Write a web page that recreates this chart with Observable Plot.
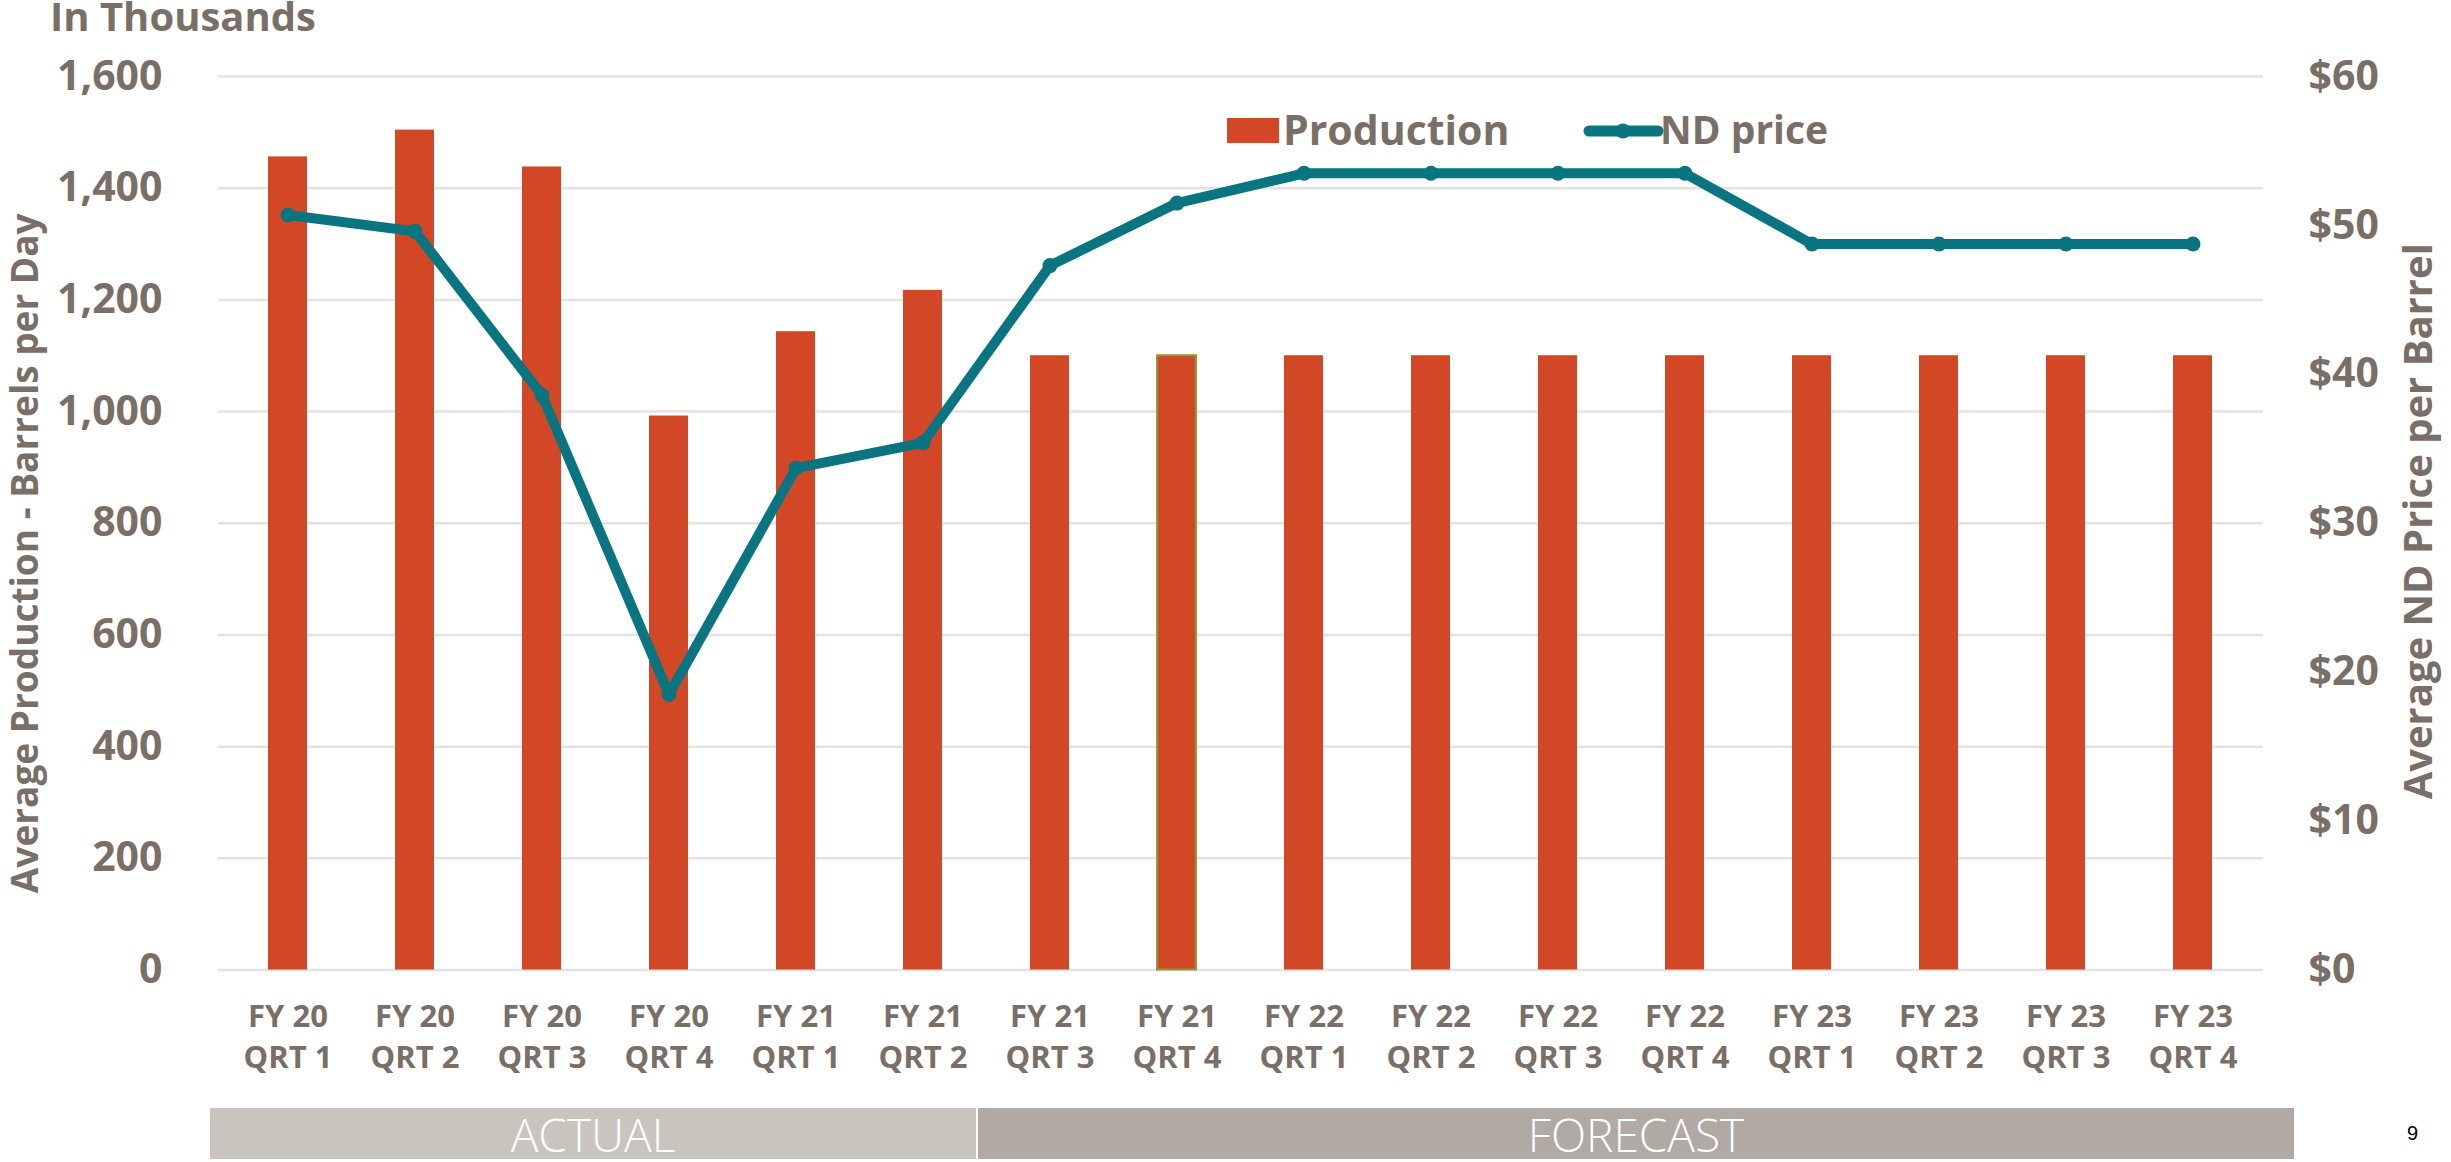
<!DOCTYPE html>
<html>
<head>
<meta charset="utf-8">
<script src="https://cdn.jsdelivr.net/npm/d3@7"></script>
<script src="https://cdn.jsdelivr.net/npm/@observablehq/plot@0.6"></script>
<style>
  html, body { margin: 0; padding: 0; background: #ffffff; }
  #wrap { position: relative; width: 2451px; height: 1162px; overflow: hidden; font-family: "Open Sans", sans-serif; color: #7a6f67; }
  #chart { position: absolute; left: 0; top: 0; }
  .title { position: absolute; left: 50px; top: 1px; font-size: 40px; font-weight: 700; line-height: 30px; white-space: nowrap; }
  .legend-swatch { position: absolute; left: 1227px; top: 118px; width: 52px; height: 25px; background: #d24726; }
  .legend-text { position: absolute; top: 101px; font-size: 41px; font-weight: 700; line-height: 56px; white-space: nowrap; }
  .legend-line { position: absolute; left: 1582px; top: 121px; }
  .phase { position: absolute; top: 1108px; height: 51px; display: flex; align-items: center; justify-content: center; color: #ffffff; font-size: 46px; font-weight: 300; line-height: 46px; }
  .page { position: absolute; left: 2407px; top: 1121px; font-family: "Liberation Sans", Arial, sans-serif; font-size: 20px; line-height: 24px; color: #000; }
</style>
</head>
<body>
<div id="wrap">
  <div id="chart"></div>
</div>
<script>
// ---- Data ----
const periods = [
  "FY 20 QRT 1", "FY 20 QRT 2", "FY 20 QRT 3", "FY 20 QRT 4",
  "FY 21 QRT 1", "FY 21 QRT 2", "FY 21 QRT 3", "FY 21 QRT 4",
  "FY 22 QRT 1", "FY 22 QRT 2", "FY 22 QRT 3", "FY 22 QRT 4",
  "FY 23 QRT 1", "FY 23 QRT 2", "FY 23 QRT 3", "FY 23 QRT 4"
];
const production = [1456, 1504, 1438, 992, 1143, 1217, 1100, 1100, 1100, 1100, 1100, 1100, 1100, 1100, 1100, 1100];
const ndPrice = [50.7, 49.6, 38.6, 18.5, 33.7, 35.4, 47.3, 51.5, 53.5, 53.5, 53.5, 53.5, 48.75, 48.75, 48.75, 48.75];
const productionTicks = [0, 200, 400, 600, 800, 1000, 1200, 1400, 1600];
const priceTicks = [0, 10, 20, 30, 40, 50, 60];
const phaseLabels = ["ACTUAL", "FORECAST"];
const seriesNames = ["Production", "ND price"];
const unitNote = "In Thousands";
const leftTitle = "Average Production - Barrels per Day";
const rightTitle = "Average ND Price per Barrel";
const pageNumber = "9";

// ---- Styling ----
const textColor = "#7a6f67";
const barColor = "#d24726";
const lineColor = "#0a7480";
const k = productionTicks[productionTicks.length - 1] / priceTicks[priceTicks.length - 1];

const data = periods.map((period, i) => ({period, production: production[i], price: ndPrice[i]}));

const chart = Plot.plot({
  width: 2451,
  height: 1100,
  marginTop: 76,
  marginBottom: 130.5,
  marginLeft: 218,
  marginRight: 188,
  style: {fontFamily: "Open Sans, sans-serif", fontWeight: 700, color: textColor, background: "transparent", overflow: "visible"},
  x: {domain: periods, paddingInner: 0.69, paddingOuter: 0.345, axis: null},
  y: {domain: [productionTicks[0], productionTicks[productionTicks.length - 1]], axis: null},
  marks: [
    Plot.gridY(productionTicks, {stroke: "#e3e3e3", strokeOpacity: 1, strokeWidth: 2.5}),
    Plot.barY(data, {
      x: "period", y: "production", fill: barColor,
      stroke: d => d.period === "FY 21 QRT 4" ? "#8f9b35" : "none", strokeWidth: 2
    }),
    Plot.line(data, {x: "period", y: d => d.price * k, stroke: lineColor, strokeWidth: 10, strokeLinejoin: "round", strokeLinecap: "round"}),
    Plot.dot(data, {x: "period", y: d => d.price * k, r: 7.5, fill: lineColor, stroke: "none"}),
    Plot.axisX({tickSize: 0, tickPadding: 27, fontSize: 31, fontWeight: 700, lineHeight: 1.34, tickFormat: d => d.replace(" QRT", "\nQRT"), label: null}),
    Plot.axisY(productionTicks, {anchor: "left", tickSize: 0, tickPadding: 56, fontSize: 41, fontWeight: 700, tickFormat: d3.format(","), label: null}),
    Plot.axisY(priceTicks.map(p => p * k), {anchor: "right", tickSize: 0, tickPadding: 45, fontSize: 41, fontWeight: 700, tickFormat: v => "$" + Math.round(v / k), label: null}),
    Plot.text([leftTitle], {frameAnchor: "left", text: d => d, textAnchor: "middle", lineAnchor: "middle", rotate: -90, dx: -192, dy: 30, fontSize: 37, fontWeight: 700, fill: textColor}),
    Plot.text([rightTitle], {frameAnchor: "right", text: d => d, textAnchor: "middle", lineAnchor: "middle", rotate: -90, dx: 156, dy: -2, fontSize: 40, fontWeight: 700, fill: textColor})
  ]
});
document.getElementById("chart").appendChild(chart);

const wrap = document.getElementById("wrap");
function addDiv(cls, text, style) {
  const el = document.createElement("div");
  el.className = cls;
  if (text != null) el.textContent = text;
  if (style) Object.assign(el.style, style);
  wrap.appendChild(el);
  return el;
}
addDiv("title", unitNote);
// legend
addDiv("legend-swatch");
addDiv("legend-text", seriesNames[0], {left: "1283px"});
const ls = document.createElementNS("http://www.w3.org/2000/svg", "svg");
ls.setAttribute("class", "legend-line");
ls.setAttribute("width", "84");
ls.setAttribute("height", "20");
ls.innerHTML = `<line x1="7" y1="10" x2="76" y2="10" stroke="${lineColor}" stroke-width="11" stroke-linecap="round"/><circle cx="41" cy="10" r="7.5" fill="${lineColor}"/>`;
wrap.appendChild(ls);
addDiv("legend-text", seriesNames[1], {left: "1660px", fontSize: "39px"});
// phases
addDiv("phase", phaseLabels[0], {left: "210px", width: "766px", background: "#cac4bf"});
addDiv("phase", phaseLabels[1], {left: "978px", width: "1316px", background: "#b0a9a4"});
addDiv("page", pageNumber);
</script>
</body>
</html>
